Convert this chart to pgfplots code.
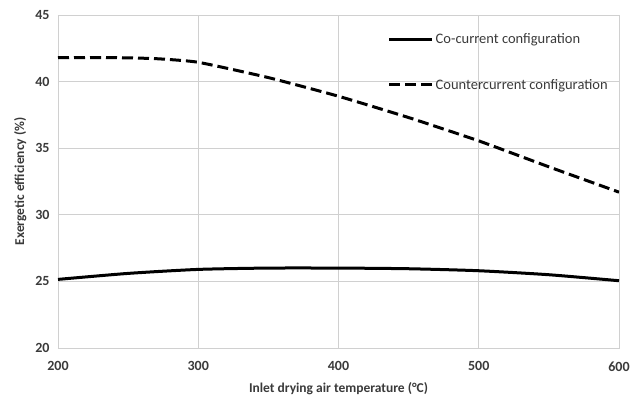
\documentclass[border=0pt]{standalone}
\usepackage{pgfplots}
\pgfplotsset{compat=1.18}
\usepackage{fontspec}
\setmainfont{Carlito}
\definecolor{gridc}{HTML}{D0D0D0}
\definecolor{txt}{HTML}{3A3A3A}
\begin{document}
\begin{tikzpicture}[x=1pt,y=1pt]
\begin{axis}[
  scale only axis,
  width=561pt, height=333pt,
  xmin=200, xmax=600, ymin=20, ymax=45,
  xtick={200,300,400,500,600},
  ytick={20,25,30,35,40,45},
  grid=major,
  major grid style={gridc, line width=0.9pt},
  axis line style={gridc, line width=0.9pt},
  major tick length=0pt,
  tick label style={font=\fontsize{14}{16}\selectfont\bfseries, text=txt},
  /pgf/number format/assume math mode=true,
  xticklabel style={yshift=-10pt},
  yticklabel style={xshift=-5pt},
  xlabel={Inlet drying air temperature (°C)},
  ylabel={Exergetic efficiency (\%)},
  label style={font=\fontsize{13.5}{16}\selectfont\bfseries, text=txt},
  xlabel style={yshift=-4pt},
  ylabel style={yshift=2pt},
  legend cell align=left,
  legend style={at={(0.582,0.957)}, anchor=north west, draw=none, fill=none,
    font=\fontsize{14.5}{17}\selectfont, text=txt, row sep=30pt,
    nodes={inner xsep=2pt}},
  legend image code/.code={\draw[#1] (0pt,0pt) -- (43pt,0pt);},
]
\addplot[black, line width=3pt, smooth, tension=0.4] coordinates {
(200,25.15) (250,25.6) (300,25.9) (350,26.0) (400,26.0) (450,25.95) (500,25.8) (550,25.5) (600,25.05)};
\addlegendentry{Co-current configuration}
\addplot[black, line width=3pt, dash pattern=on 11pt off 5pt, smooth, tension=0.3] coordinates {
(200,41.8) (240,41.8) (270,41.72) (300,41.45) (350,40.3) (400,38.9) (450,37.3) (500,35.55) (550,33.6) (600,31.7)};
\addlegendentry{Countercurrent configuration}
\end{axis}
\pgfresetboundingbox
\path (current axis.south west) ++(-58pt,-57pt) coordinate (a);
\path (current axis.north east) ++(12pt,15pt) coordinate (b);
\path[use as bounding box] (a) rectangle (b);
\end{tikzpicture}
\end{document}
